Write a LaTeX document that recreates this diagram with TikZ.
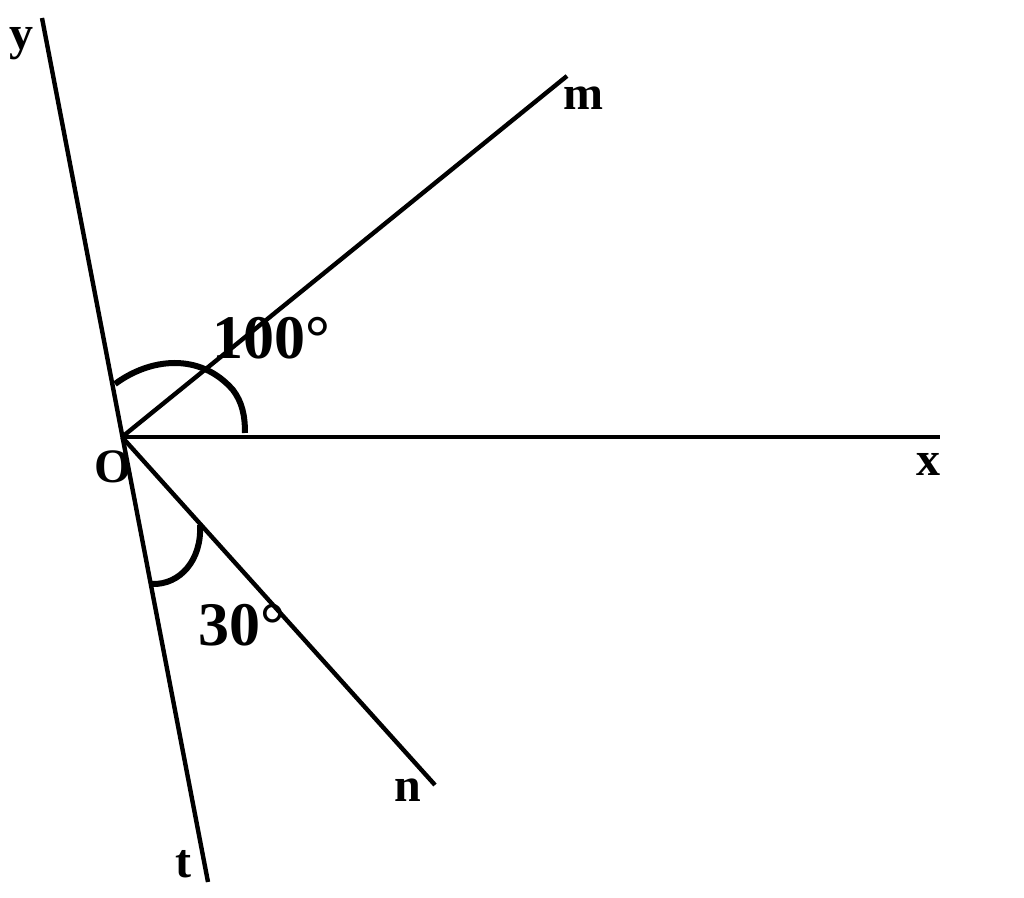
\documentclass[tikz,border=0pt]{standalone}
\usepackage{fontspec}
\setmainfont{Liberation Serif}
\begin{document}
\begin{tikzpicture}[x=0.5pt,y=-0.5pt,
  ray/.style={line width=2.2pt},
  arcmark/.style={line width=3pt},
  lbl/.style={font=\fontsize{24}{30}\selectfont\bfseries, inner sep=0pt},
  anglbl/.style={font=\fontsize{31}{36}\selectfont\bfseries, inner sep=0pt}]
\useasboundingbox (0,0) rectangle (1024,898);
\coordinate (O) at (122,437);
\coordinate (Y) at (42,18);
\coordinate (T) at (208,882);
\coordinate (X) at (940,437);
\coordinate (M) at (567,76);
\coordinate (N) at (435,785);
\draw[ray] (Y) -- (T);
\draw[ray] (O) -- (X);
\draw[ray] (O) -- (M);
\draw[ray] (O) -- (N);
\draw[arcmark] (115,384) .. controls (150,358) and (200,352) .. (233,390) .. controls (242,402) and (245,415) .. (245,433);
\draw[arcmark] (200,525) .. controls (202,560) and (180,585) .. (152,584);
\node[lbl] (ly) at (22,44) {y};
\node[lbl] (lm) at (583,98) {m};
\node[lbl] (lx) at (928,464) {x};
\node[lbl] (lO) at (113,467) {O};
\node[lbl] (lt) at (183,864) {t};
\node[lbl] (ln) at (408,790) {n};
\node[anglbl] (l100) at (271,338) {100°};
\node[anglbl] (l30) at (242,625) {30°};
\end{tikzpicture}
\end{document}
